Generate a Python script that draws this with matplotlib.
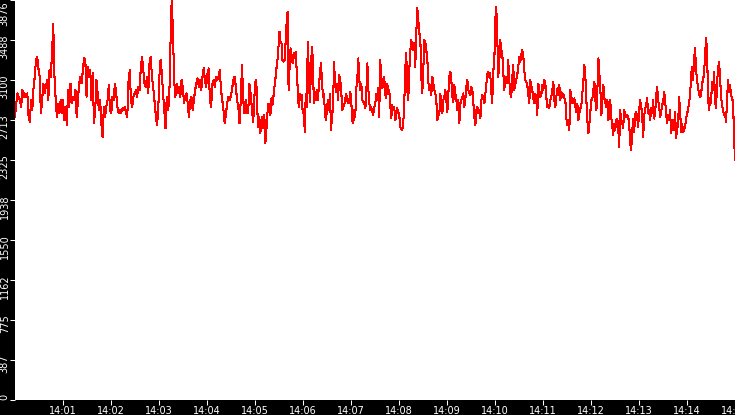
import pandas as pd
import matplotlib
matplotlib.use("Agg")
import matplotlib.pyplot as plt
from matplotlib.transforms import ScaledTranslation

# ------------------------
# data: the trace in five stretches
# ------------------------
DAY = "2024-01-01 "

span1 = ("14:00:00", "14:04:53")
vals1 = [2743, 2872, 2969, 2937, 2905, 2840, 3002, 2937, 2969, 2937, 2969, 2743, 2694, 2905, 2807, 3018,
         3131, 3293, 3326, 3212, 3131, 2775, 2905, 3066, 2969, 3034, 3099, 2905, 3196, 3131, 3358, 3643,
         3131, 2905, 2743, 2872, 2775, 2905, 2775, 2905, 2710, 2840, 2662, 3002, 2840, 3066, 2872, 2937,
         2905, 3002, 2743, 2905, 3066, 3131, 3066, 3196, 3309, 3293, 2937, 3228, 3131, 3196, 2905, 3164,
         2678, 2807, 3099, 2969, 2807, 2905, 2678, 2548, 2840, 2743, 2840, 2905, 3050, 2807, 2775, 2937,
         2905, 3066, 2969, 2840, 2775, 2807, 2775, 2824, 2807, 2840, 2775, 2743, 3083, 3196, 2905, 2840,
         2937, 2969, 3002, 2937, 3034, 3002, 3228, 3326, 3196, 3066, 3034, 3131, 2969, 3261, 3326, 3131,
         3034, 2905, 2775, 2662, 2775, 3131, 3293, 3164, 2969, 2807, 2629, 2937, 2807, 2905, 3439, 3876,
         3585, 3099, 2937, 3066, 2969, 3034, 2937, 3099, 3034, 2872, 2937, 2969, 2872, 2743, 2905, 2937,
         2807, 2905, 3002, 3066, 3115, 3034, 3099, 3002, 3131, 3212, 3099, 3034, 3164, 3212, 2905, 2840,
         3066, 3099, 3034, 3131, 3099, 3131, 3196, 3002, 2905, 2807, 2678, 2775, 2872, 2937, 2905, 2937,
         3018, 3099, 3131, 3034, 2905, 2840, 2678, 2905, 3245, 2905, 2775, 2905, 2775, 2775, 3066]

span2 = ("14:04:54", "14:07:23")
vals2 = [3002, 2905, 2775, 2694, 2905, 3083, 3099, 2807, 2646, 2743, 2581, 2678, 2743, 2629, 2759, 2484,
         2613, 2775, 2872, 2824, 2759, 2921, 2856, 2937, 3034, 3115, 3212, 3293, 3423, 3568, 3471, 3455,
         3293, 3277, 3293, 3455, 3649, 3763, 3002, 3228, 3406, 3326, 3261, 3358, 3309, 3374, 3196, 3002,
         2840, 2969, 2905, 2953, 2775, 2807, 2597, 2969, 2840, 3471, 3180, 2888, 3131, 3423, 3309, 2872,
         2986, 2905, 3002, 2905, 3050, 3147, 3261, 3099, 2937, 2969, 2775, 2710, 2824, 2905, 2807, 2969,
         2613, 2743, 2840, 3277, 3066, 2986, 3066, 2905, 3147, 3099, 3034, 2807, 2840, 2856, 2905, 2969,
         2905, 2872, 2888, 2986, 2905, 2710, 2678, 2807, 2743, 3018, 3099, 3309, 3099, 3002, 3066, 2905,
         2888, 2872, 2824, 3002, 3261, 3002, 2872]

span3 = ("14:07:24", "14:09:53")
vals3 = [2807, 2840, 2791, 2759, 2840, 2856, 2969, 2905, 3018, 2743, 3293, 3147, 3018, 3066, 3131, 2969,
         2921, 3066, 2986, 3002, 2856, 2726, 2856, 2807, 2840, 2710, 2759, 2824, 2791, 2759, 2646, 2629,
         2613, 2678, 2872, 3212, 3358, 3002, 2905, 3196, 3374, 3487, 3439, 3390, 3455, 3228, 3552, 3795,
         3682, 3552, 3520, 3131, 2969, 3196, 3487, 3471, 3390, 3309, 3083, 3002, 3050, 2953, 3131, 3066,
         3002, 2969, 2905, 2710, 2775, 2759, 2969, 2872, 2775, 2905, 2937, 3002, 2905, 2791, 2969, 3131,
         3180, 3099, 2937, 2888, 3050, 2969, 2905, 2807, 2905, 2678, 2872, 2905, 2937, 2969, 2840, 2921,
         3034, 3099, 3002, 2969, 2953, 3034, 3002, 2872, 2743, 2662, 2807, 2840, 2775, 2807, 2726, 2905,
         2953, 2937, 2872, 2969, 3066, 3164, 3180, 3131]

span4 = ("14:09:54", "14:12:23")
vals4 = [3164, 3002, 2872, 3196, 3228, 3666, 3811, 3552, 3131, 3261, 3487, 3390, 3358, 3196, 3002, 3083,
         3131, 3066, 3293, 3099, 2969, 2937, 3115, 3245, 3002, 3050, 3099, 3147, 3228, 3326, 3277, 3342,
         3390, 3342, 3196, 3099, 3083, 3050, 2969, 2872, 3099, 3050, 3002, 2921, 2872, 2969, 2905, 2759,
         3066, 3002, 2937, 2953, 3050, 3002, 3099, 3066, 2937, 2840, 2856, 2824, 2905, 2937, 3002, 3083,
         2905, 2840, 2937, 3018, 2953, 3050, 2905, 2986, 2937, 2969, 2921, 2905, 2726, 2662, 2710, 2613,
         3002, 2937, 2872, 2905, 2921, 2840, 2791, 2872, 2710, 2775, 2824, 2856, 2969, 3083, 3245, 3131,
         2905, 2710, 2581, 2678, 2791, 2905, 2921, 3002, 3083, 2905, 2807, 3002, 3309, 3164, 3002, 2759,
         2937, 3050, 2921, 2872, 2840, 2905, 2710, 2759]

span5 = ("14:12:24", "14:15:00")
vals5 = [2905, 2743, 2662, 2565, 2678, 2613, 2710, 2726, 2646, 2451, 2807, 2710, 2694, 2629, 2807, 2759,
         2743, 2759, 2743, 2678, 2484, 2419, 2597, 2726, 2597, 2759, 2791, 2743, 2646, 2807, 2905, 2840,
         2775, 2548, 2743, 2824, 2856, 2921, 2775, 2807, 2710, 2824, 2775, 2905, 2726, 2775, 2937, 3034,
         2905, 2840, 2743, 2775, 2872, 2872, 2986, 2905, 2775, 2678, 2759, 2710, 2807, 2581, 2646, 2710,
         2613, 2791, 2532, 2629, 2646, 2937, 2807, 2597, 2678, 2597, 2613, 2646, 2726, 2775, 2807, 2888,
         2937, 3147, 3228, 3099, 3293, 3406, 3196, 3099, 3018, 2969, 2937, 2953, 3066, 3099, 3164, 3326,
         3504, 3390, 2937, 2807, 2921, 2872, 3083, 3002, 3180, 2905, 2824, 3066, 3212, 3277, 3131, 2937,
         2856, 2807, 2759, 2775, 2694, 2905, 3099, 2986, 3050, 2969, 2905, 2905, 2565, 2322]

ytick_vals = [0, 387.6, 775.2, 1162.8, 1550.4, 1938, 2325.6, 2713.2, 3100.8, 3488.4, 3876]
ytick_labels = ["0", "387", "775", "1162", "1550", "1938", "2325", "2713", "3100", "3488", "3876"]

# ------------------------
# build the time axis for each stretch
# ------------------------
times = []
values = []
for (start, end), vals in [(span1, vals1), (span2, vals2), (span3, vals3), (span4, vals4), (span5, vals5)]:
    times.extend(pd.date_range(DAY + start, DAY + end, periods=len(vals)))
    values.extend(vals)

minute_ticks = pd.date_range(DAY + "14:01", DAY + "14:15", freq="1min")

# ------------------------
# plot
# ------------------------
fig = plt.figure(figsize=(7.35, 4.15), dpi=100, facecolor="black")
ax = fig.add_axes([15 / 735, 15.5 / 415, 720 / 735, 399.5 / 415])
ax.set_facecolor("white")

ax.plot(times, values, color="red", linewidth=0.75, antialiased=False)

ax.set_xlim(pd.Timestamp(DAY + "14:00"), pd.Timestamp(DAY + "14:15"))
ax.set_ylim(0, 3876)

ax.set_xticks(minute_ticks)
ax.set_xticklabels([t.strftime("%H:%M") for t in minute_ticks])
ax.set_yticks(ytick_vals)
ax.set_yticklabels(ytick_labels, rotation=90, va="top")

for s in ax.spines.values():
    s.set_visible(False)

ax.tick_params(colors="white", labelsize=7, length=3.6, width=0.75)
ax.tick_params(axis="x", pad=1.2)
ax.tick_params(axis="y", pad=0.2)

# labels start a few pixels above their tick, the top one stays inside
shift = ScaledTranslation(0, 0.055, fig.dpi_scale_trans)
top_shift = ScaledTranslation(0, -0.015, fig.dpi_scale_trans)
labs = ax.get_yticklabels()
for lab in labs[:-1]:
    lab.set_transform(lab.get_transform() + shift)
labs[-1].set_transform(labs[-1].get_transform() + top_shift)

fig.savefig("out.png", dpi=100, facecolor="black")
